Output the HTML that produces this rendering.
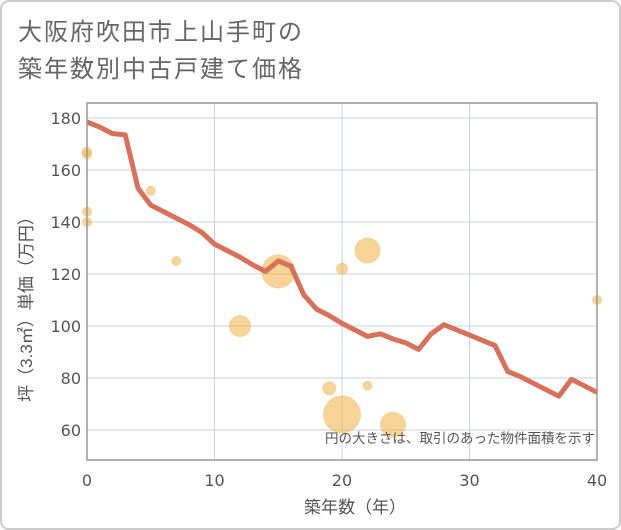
<!DOCTYPE html>
<html><head><meta charset="utf-8"><style>
html,body{margin:0;padding:0;background:#fff;}
svg{display:block;font-family:"Liberation Sans","Noto Sans CJK JP",sans-serif;}
</style></head><body>
<svg id="chart" width="621" height="530" viewBox="0 0 621 530" xmlns="http://www.w3.org/2000/svg">
<rect x="1" y="1" width="619" height="528" rx="8" fill="#fff" stroke="#ccc" stroke-width="2"/>
<text x="18" y="40" font-size="24" letter-spacing="2" fill="#666">大阪府吹田市上山手町の</text>
<text x="18" y="77" font-size="24" letter-spacing="2" fill="#666">築年数別中古戸建て価格</text>
<g id="grid"></g>
<g id="bubbles"></g>
<g id="lineg"></g>
<rect x="87" y="103" width="510" height="357" fill="none" stroke="#999" stroke-width="1.5"/>
<g id="ticks"></g>
<text x="595" y="443" font-size="13.5" fill="#555" text-anchor="end">円の大きさは、取引のあった物件面積を示す</text>
<text x="355" y="513" font-size="17" fill="#555" text-anchor="middle">築年数（年）</text>
<text transform="translate(32,305) rotate(-90)" font-size="17" fill="#555" text-anchor="middle">坪（3.3㎡）単価（万円）</text>
</svg>
<script>
const xTicks=[0,10,20,30,40];
const yTicks=[60,80,100,120,140,160,180];
const lineYears=[0,1,2,3,4,5,6,7,8,9,10,11,12,13,14,15,16,17,18,19,20,21,22,23,24,25,26,27,28,29,30,31,32,33,34,35,36,37,38,39,40];
const linePrices=[178.5,176.5,174,173.5,153,146.5,144,141.5,139,136,131.5,129,126.5,123.5,121,125,123,112,106.5,104,101,98.5,96,97,95,93.5,91,97,100.5,98.5,96.5,94.5,92.5,82.5,80.5,78,75.5,73,79.5,77,74.5];
const bubbleYears=[0,0,0,0,5,7,12,15,19,20,20,22,22,24,40];
const bubblePrices=[167,166,144,140,152,125,100,121,76,66,122,129,77,62,110];
const bubbleSizes=[5,5,5,5,5,5,11,17,7,19,6,13,5,13,5];
const NS="http://www.w3.org/2000/svg";
const X0=87,X1=597,Y0=460,Y1=103;
function xs(v){return X0+(v-0)/(40-0)*(X1-X0);}
function ys(v){return 430-(v-60)*2.6;}
function mk(t,a,p){const e=document.createElementNS(NS,t);for(const k in a)e.setAttribute(k,a[k]);p.appendChild(e);return e;}
const grid=document.getElementById('grid'),ticks=document.getElementById('ticks');
xTicks.forEach(v=>{
 const l=mk('line',{x1:xs(v),x2:xs(v),y1:Y1,y2:Y0,stroke:'#c5d3e3','stroke-width':1},grid);
 
 
 const t=mk('text',{x:xs(v),y:486,'font-size':16,'font-family':'DejaVu Sans, sans-serif',fill:'#555','text-anchor':'middle'},ticks);
 t.textContent=v;
 
 
});
yTicks.forEach(v=>{
 const l=mk('line',{x1:X0,x2:X1,y1:ys(v),y2:ys(v),stroke:'#c5d3e3','stroke-width':1},grid);
 
 
 const t=mk('text',{x:81,y:ys(v)+6,'font-size':16,'font-family':'DejaVu Sans, sans-serif',fill:'#555','text-anchor':'end'},ticks);
 t.textContent=v;
 
 
});
const bg=document.getElementById('bubbles');
bubbleYears.forEach((yr,i)=>{
 const c=mk('circle',{cx:xs(yr),cy:ys(bubblePrices[i]),r:bubbleSizes[i],fill:'#f0b550','fill-opacity':0.6},bg);
 
 
});
const pts=lineYears.map((yr,i)=>xs(yr)+','+ys(linePrices[i])).join(' ');
const pl=mk('polyline',{points:pts,fill:'none',stroke:'#d9705a','stroke-width':5,'stroke-linejoin':'round'},document.getElementById('lineg'));


</script>
</body></html>
